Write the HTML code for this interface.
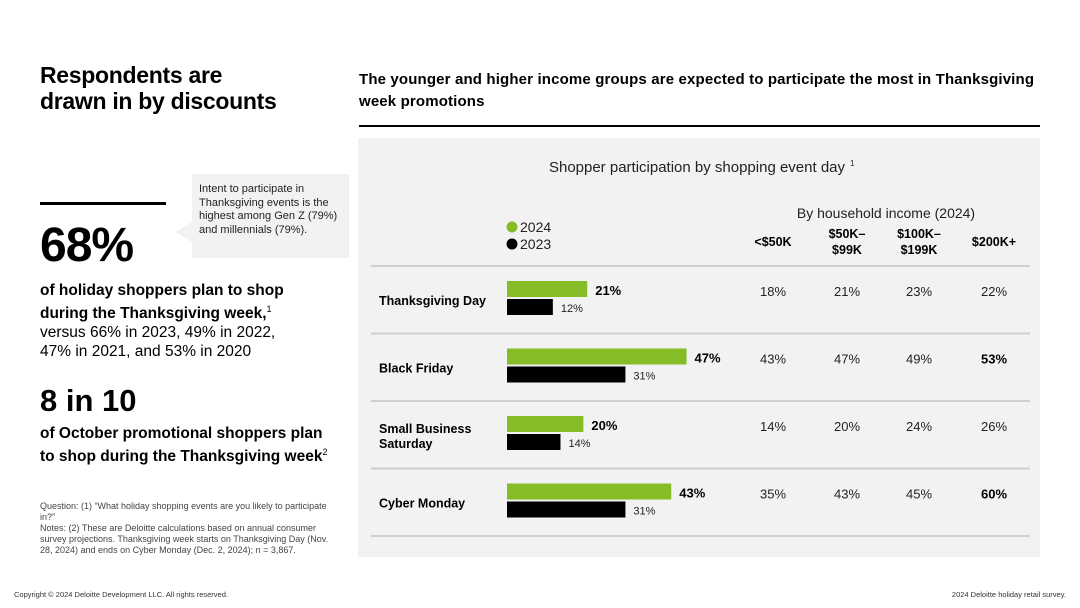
<!DOCTYPE html>
<html><head><meta charset="utf-8">
<style>
body{margin:0;width:1080px;height:608px;background:#fff;font-family:"Liberation Sans","DejaVu Sans",sans-serif;position:relative;overflow:hidden;color:#000}
.a{position:absolute;margin:0}
</style></head><body>
<div class="a" style="left:40px;top:62px;font-size:23px;font-weight:bold;line-height:26px;letter-spacing:-0.3px">Respondents are<br>drawn in by discounts</div>
<div class="a" style="left:359px;top:69px;font-size:15px;font-weight:bold;line-height:22px;width:680px;letter-spacing:0.15px">The younger and higher income groups are expected to participate the most in Thanksgiving week promotions</div>
<div class="a" style="left:359px;top:125px;width:681px;height:2px;background:#000"></div>
<div class="a" style="left:40px;top:202px;width:126px;height:3px;background:#000"></div>
<div class="a" style="left:192px;top:174px;width:157px;height:84px;background:#f2f2f2"></div>
<div class="a" style="left:176px;top:222px;width:0;height:0;border-top:10px solid transparent;border-bottom:10px solid transparent;border-right:16px solid #f2f2f2"></div>
<div class="a" style="left:199px;top:183px;width:142px;font-size:11px;line-height:13.5px;color:#222">Intent to participate in Thanksgiving events is the highest among Gen Z (79%) and millennials (79%).</div>
<div class="a" style="left:40px;top:218px;font-size:48px;font-weight:bold;letter-spacing:-1px">68%</div>
<div class="a" style="left:40px;top:281px;font-size:15.5px;line-height:19px;width:300px"><b>of holiday shoppers plan to shop<br>during the Thanksgiving week,</b><sup style="font-size:9px">1</sup><br>versus 66% in 2023, 49% in 2022,<br>47% in 2021, and 53% in 2020</div>
<div class="a" style="left:40px;top:383px;font-size:31px;font-weight:bold">8 in 10</div>
<div class="a" style="left:40px;top:424px;font-size:15.5px;line-height:19px;width:300px;font-weight:bold">of October promotional shoppers plan to shop during the Thanksgiving week<sup style="font-size:9px;font-weight:normal">2</sup></div>
<div class="a" style="left:40px;top:501px;width:300px;font-size:9px;line-height:11px;color:#444">Question: (1) “What holiday shopping events are you likely to participate in?”<br>Notes: (2) These are Deloitte calculations based on annual consumer survey projections. Thanksgiving week starts on Thanksgiving Day (Nov. 28, 2024) and ends on Cyber Monday (Dec. 2, 2024); n = 3,867.</div>
<div class="a" style="left:14px;top:590px;font-size:7.5px;color:#333">Copyright © 2024 Deloitte Development LLC. All rights reserved.</div>
<div class="a" style="right:14px;top:590px;font-size:7.5px;color:#333">2024 Deloitte holiday retail survey.</div>
<svg class="a" style="left:0;top:0" width="1080" height="608" id="chart"></svg>
<script>
const categories=["Thanksgiving Day","Black Friday","Small Business Saturday","Cyber Monday"];
const values2024=[21,47,20,43];
const values2023=[12,31,14,31];
const incomeLabels=[["<$50K"],["$50K–","$99K"],["$100K–","$199K"],["$200K+"]];
const income=[[18,21,23,22],[43,47,49,53],[14,20,24,26],[35,43,45,60]];
const boldIncome=[[],[3],[],[3]];
const ns="http://www.w3.org/2000/svg";
const svg=document.getElementById('chart');
function el(t,a,txt){const e=document.createElementNS(ns,t);for(const k in a)e.setAttribute(k,a[k]);if(txt!=null)e.textContent=txt;svg.appendChild(e);return e;}
const x0=507,pxPer=3.82;
const xs=v=>x0+v*pxPer;
const rowY=i=>266+i*67.5;
const colX=[773,847,919,994];
let e;
e=el('rect',{x:358,y:138,width:682,height:419,fill:'#f2f2f2'});


e=el('text',{x:697,y:172,'text-anchor':'middle','font-size':15,fill:'#222'},'Shopper participation by shopping event day');


e=el('text',{x:850,y:166,'font-size':8,fill:'#222'},'1');


e=el('circle',{cx:512,cy:227,r:5.5,fill:'#86bc25'});


e=el('text',{x:520,y:232,'font-size':14,fill:'#222'},'2024');


e=el('circle',{cx:512,cy:244,r:5.5,fill:'#000'});


e=el('text',{x:520,y:249,'font-size':14,fill:'#222'},'2023');


e=el('text',{x:886,y:218,'text-anchor':'middle','font-size':14,fill:'#222'},'By household income (2024)');


incomeLabels.forEach((l,j)=>{l.forEach((s,k)=>{
 const y=l.length==1?246:238+k*16;
 e=el('text',{x:colX[j],y:y,'text-anchor':'middle','font-size':12.5,'font-weight':'bold'},s);
 
 
});});
for(let i=0;i<=categories.length;i++){
 e=el('line',{x1:371,x2:1030,y1:rowY(i),y2:rowY(i),stroke:'#cfcfcf','stroke-width':2});
 
 
}
categories.forEach((c,i)=>{
 const top=rowY(i);
 const words=c=="Small Business Saturday"?["Small Business","Saturday"]:[c];
 words.forEach((w,k)=>{
  e=el('text',{x:379,y:top+(words.length==1?39:32+k*15),'font-size':12.5,'font-weight':'bold'},w);
  
  
 });
 e=el('rect',{x:x0,y:top+15,width:xs(values2024[i])-x0,height:16,fill:'#86bc25'});
 
 
 e=el('text',{x:xs(values2024[i])+8,y:top+29,'font-size':13,'font-weight':'bold'},values2024[i]+'%');
 
 
 e=el('rect',{x:x0,y:top+33,width:xs(values2023[i])-x0,height:16,fill:'#000'});
 
 
 e=el('text',{x:xs(values2023[i])+8,y:top+46,'font-size':11,fill:'#222'},values2023[i]+'%');
 
 
 income[i].forEach((v,j)=>{
  const b=boldIncome[i].includes(j);
  e=el('text',{x:colX[j],y:top+30,'text-anchor':'middle','font-size':13,'font-weight':b?'bold':'normal',fill:b?'#000':'#222'},v+'%');
  
  
 });
});
</script>
</body></html>
